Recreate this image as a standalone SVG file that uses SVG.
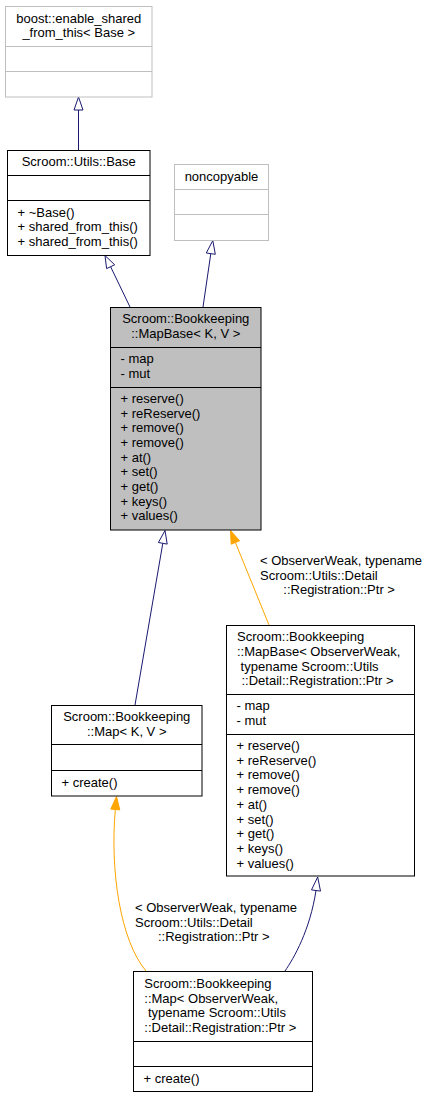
<svg xmlns="http://www.w3.org/2000/svg" width="431" height="1099" viewBox="0 0 431 1099">
<style>
text{font-family:"Liberation Sans",Arial,Helvetica,sans-serif;font-size:13px;fill:#000}
.c{text-anchor:middle}
.box{fill:#fff;stroke:#000;stroke-width:1}
.gbox{fill:#fff;stroke:#bfbfbf;stroke-width:1}
.sel{fill:#bfbfbf;stroke:#000;stroke-width:1}
.dv{stroke:#000;stroke-width:1}
.gdv{stroke:#bfbfbf;stroke-width:1}
.inh{fill:none;stroke:#191970;stroke-width:1}
.inhh{fill:#fff;stroke:#191970;stroke-width:1}
.tpl{fill:none;stroke:#ffa500;stroke-width:1}
.tplh{fill:#ffa500;stroke:#ffa500;stroke-width:1}
</style>
<rect width="431" height="1099" fill="#fff"/>
<g id="connectors">
<line class="inh" x1="78.5" y1="150" x2="78.5" y2="110"/>
<polygon class="inhh" points="78.5,97 74,110 83,110"/>
<line class="inh" x1="130" y1="307" x2="110.6" y2="266.7"/>
<polygon class="inhh" points="105,255.5 114.7,264.8 106.6,268.6"/>
<line class="inh" x1="203" y1="307" x2="210.8" y2="253.6"/>
<polygon class="inhh" points="212.8,240.5 215.3,254.3 206.3,253"/>
<line class="inh" x1="135" y1="705" x2="162.8" y2="543.3"/>
<polygon class="inhh" points="165,530.5 167.2,544.1 158.4,542.5"/>
<line class="tpl" x1="269" y1="625" x2="235.4" y2="542.5"/>
<polygon class="tplh" points="230.5,530.5 239.6,540.8 231.2,544.2"/>
<text x="260" y="565">&lt; ObserverWeak, typename</text>
<text x="260" y="579.7">Scroom::Utils::Detail</text>
<text x="283.3" y="594.4">::Registration::Ptr &gt;</text>
<path class="inh" d="M285,971 C294,958 310,930 316,890.5"/>
<polygon class="inhh" points="317.7,877 320.5,891.1 311.5,889.9"/>
<path class="tpl" d="M146,971 C120,940 110,870 115.3,809.5"/>
<polygon class="tplh" points="116.5,796.5 119.8,809.9 110.8,809.1"/>
<text x="135" y="912">&lt; ObserverWeak, typename</text>
<text x="135" y="926.7">Scroom::Utils::Detail</text>
<text x="158" y="941.4">::Registration::Ptr &gt;</text>
</g>
<g id="node-enable_shared_from_this">
<rect class="gbox" x="5.5" y="6.5" width="146.5" height="90.5"/>
<line class="gdv" x1="5.5" y1="46.5" x2="152" y2="46.5"/>
<line class="gdv" x1="5.5" y1="71.5" x2="152" y2="71.5"/>
<text class="c" x="78.75" y="22.5">boost::enable_shared</text>
<text class="c" x="78.75" y="37">_from_this&lt; Base &gt;</text>
</g>
<g id="node-Base">
<rect class="box" x="7.5" y="150.5" width="142.5" height="105"/>
<line class="dv" x1="7.5" y1="175.5" x2="150" y2="175.5"/>
<line class="dv" x1="7.5" y1="200.5" x2="150" y2="200.5"/>
<text class="c" x="78.75" y="166.3">Scroom::Utils::Base</text>
<text x="17.5" y="216.5">+ ~Base()</text>
<text x="17.5" y="231.2">+ shared_from_this()</text>
<text x="17.5" y="245.9">+ shared_from_this()</text>
</g>
<g id="node-noncopyable">
<rect class="gbox" x="174.5" y="164.5" width="94" height="76"/>
<line class="gdv" x1="174.5" y1="189.5" x2="268.5" y2="189.5"/>
<line class="gdv" x1="174.5" y1="214.5" x2="268.5" y2="214.5"/>
<text class="c" x="221.5" y="180.8">noncopyable</text>
</g>
<g id="node-MapBase">
<rect class="sel" x="110.5" y="307.5" width="150.5" height="222.5"/>
<line class="dv" x1="110.5" y1="347.5" x2="261" y2="347.5"/>
<line class="dv" x1="110.5" y1="387.5" x2="261" y2="387.5"/>
<text class="c" x="185.75" y="323.3">Scroom::Bookkeeping</text>
<text class="c" x="185.75" y="338">::MapBase&lt; K, V &gt;</text>
<text x="120.5" y="363">- map</text>
<text x="120.5" y="377.7">- mut</text>
<text x="120.5" y="402.8">+ reserve()</text>
<text x="120.5" y="417.5">+ reReserve()</text>
<text x="120.5" y="432.2">+ remove()</text>
<text x="120.5" y="446.9">+ remove()</text>
<text x="120.5" y="461.6">+ at()</text>
<text x="120.5" y="476.3">+ set()</text>
<text x="120.5" y="491">+ get()</text>
<text x="120.5" y="505.7">+ keys()</text>
<text x="120.5" y="520.4">+ values()</text>
</g>
<g id="node-Map">
<rect class="box" x="51.5" y="705.5" width="150.5" height="90.5"/>
<line class="dv" x1="51.5" y1="744.5" x2="202" y2="744.5"/>
<line class="dv" x1="51.5" y1="770.5" x2="202" y2="770.5"/>
<text class="c" x="126.75" y="721.3">Scroom::Bookkeeping</text>
<text class="c" x="126.75" y="736">::Map&lt; K, V &gt;</text>
<text x="61.5" y="786.6">+ create()</text>
</g>
<g id="node-MapBase-ObserverWeak">
<rect class="box" x="226.5" y="625.5" width="188" height="250.5"/>
<line class="dv" x1="226.5" y1="694.5" x2="414.5" y2="694.5"/>
<line class="dv" x1="226.5" y1="734.5" x2="414.5" y2="734.5"/>
<text x="237" y="641.3">Scroom::Bookkeeping</text>
<text x="237" y="656">::MapBase&lt; ObserverWeak,</text>
<text x="240.6" y="670.7">typename Scroom::Utils</text>
<text x="241.5" y="685.4">::Detail::Registration::Ptr &gt;</text>
<text x="236.5" y="710.3">- map</text>
<text x="236.5" y="725">- mut</text>
<text x="236.5" y="750">+ reserve()</text>
<text x="236.5" y="764.7">+ reReserve()</text>
<text x="236.5" y="779.4">+ remove()</text>
<text x="236.5" y="794.1">+ remove()</text>
<text x="236.5" y="808.8">+ at()</text>
<text x="236.5" y="823.5">+ set()</text>
<text x="236.5" y="838.2">+ get()</text>
<text x="236.5" y="852.9">+ keys()</text>
<text x="236.5" y="867.6">+ values()</text>
</g>
<g id="node-Map-ObserverWeak">
<rect class="box" x="133.5" y="971.5" width="179" height="120"/>
<line class="dv" x1="133.5" y1="1041.5" x2="312.5" y2="1041.5"/>
<line class="dv" x1="133.5" y1="1066.5" x2="312.5" y2="1066.5"/>
<text x="144.3" y="987.8">Scroom::Bookkeeping</text>
<text x="144.3" y="1002.5">::Map&lt; ObserverWeak,</text>
<text x="148" y="1017.2">typename Scroom::Utils</text>
<text x="144.3" y="1031.9">::Detail::Registration::Ptr &gt;</text>
<text x="143.5" y="1082.5">+ create()</text>
</g>
</svg>
